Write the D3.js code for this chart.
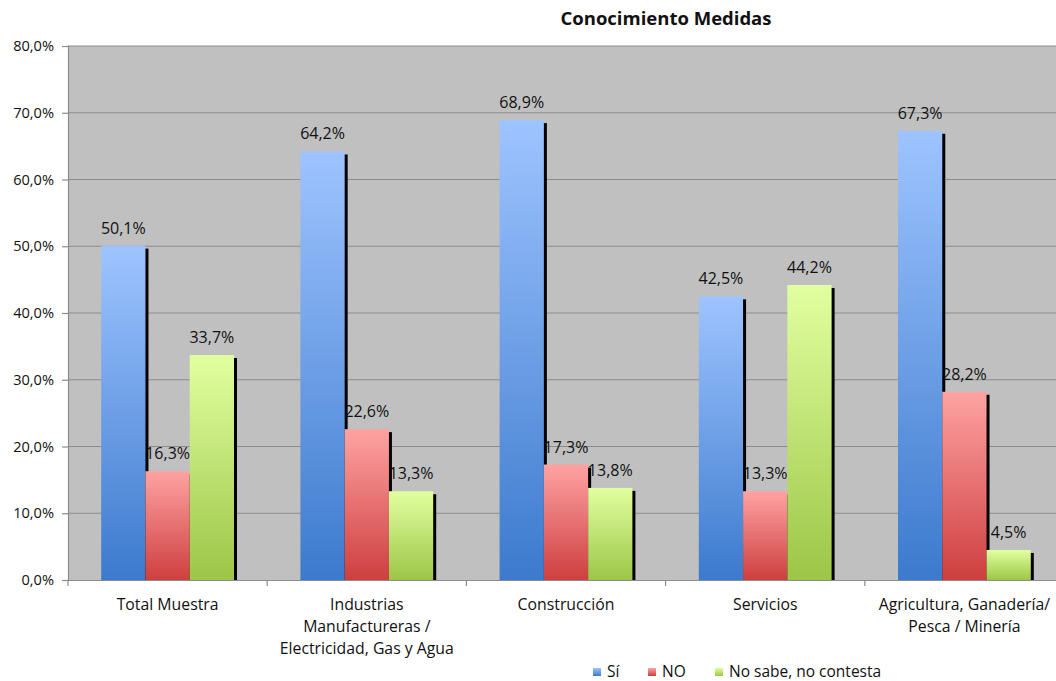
<!DOCTYPE html>
<html><head><meta charset="utf-8">
<script src="https://cdn.jsdelivr.net/npm/d3@7/dist/d3.min.js"></script>
<style>
html,body{margin:0;padding:0;background:#fff;}
svg{display:block;font-family:"Open Sans",sans-serif;}
</style></head>
<body>
<svg id="chart" width="1056" height="681"></svg>
<script>
const title = "Conocimiento Medidas";
const categories = [
  ["Total Muestra"],
  ["Industrias", "Manufactureras /", "Electricidad, Gas y Agua"],
  ["Construcción"],
  ["Servicios"],
  ["Agricultura, Ganadería/", "Pesca / Minería"]
];
const seriesNames = ["Sí", "NO", "No sabe, no contesta"];
const siValues = [50.1, 64.2, 68.9, 42.5, 67.3];
const noValues = [16.3, 22.6, 17.3, 13.3, 28.2];
const nsValues = [33.7, 13.3, 13.8, 44.2, 4.5];
const yTicks = [0, 10, 20, 30, 40, 50, 60, 70, 80];

const seriesValues = [siValues, noValues, nsValues];
const gradStops = [
  ["#9EC4FF", "#3C7ACD"],
  ["#FFA2A2", "#CE3F3F"],
  ["#E2FFA0", "#9CC647"]
];

const svg = d3.select("#chart");
const pLeft = 68, pRight = 1064, pTop = 46, pBottom = 580;
const catIdx = d3.range(categories.length);
const x0 = d3.scaleBand().domain(catIdx).range([pLeft, pRight]).paddingInner(0).paddingOuter(0);
const gapFrac = 1.5 / 4.5 / 2;
const x1 = d3.scaleBand().domain(d3.range(3))
  .range([x0.bandwidth() * gapFrac, x0.bandwidth() * (1 - gapFrac)]).padding(0);
const y = d3.scaleLinear().domain([0, 80]).range([pBottom, pTop]);

const defs = svg.append("defs");
gradStops.forEach((g, i) => {
  const lg = defs.append("linearGradient").attr("id", "g" + i)
    .attr("x1", 0).attr("y1", 0).attr("x2", 0).attr("y2", 1);
  lg.append("stop").attr("offset", "0%").attr("stop-color", g[0]);
  lg.append("stop").attr("offset", "100%").attr("stop-color", g[1]);
});

// plot background
svg.append("rect").attr("x", pLeft).attr("y", pTop).attr("width", pRight - pLeft).attr("height", pBottom - pTop)
  .attr("fill", "#C0C0C0");

// gridlines
svg.append("g").selectAll("line").data(yTicks.filter(d => d > 0)).join("line")
  .attr("x1", pLeft).attr("x2", pRight).attr("y1", d => y(d)).attr("y2", d => y(d))
  .attr("stroke", "#8C8C8C").attr("stroke-width", 1.2);

// y axis
const yAxis = d3.axisLeft(y).tickValues(yTicks).tickSize(6).tickPadding(8)
  .tickFormat(d => d3.format(".1f")(d).replace(".", ",") + "%");
const gy = svg.append("g").attr("transform", `translate(${pLeft},0)`).call(yAxis);
gy.select(".domain").attr("stroke", "#8C8C8C").attr("stroke-width", 1.2);
gy.selectAll(".tick line").attr("stroke", "#8C8C8C").attr("stroke-width", 1.2);
gy.selectAll(".tick text").attr("font-size", 14.6).attr("fill", "#111").attr("font-family", "Open Sans");

// x axis
const xAxis = d3.axisBottom(x0).tickSize(0).tickFormat("");
const gx = svg.append("g").attr("transform", `translate(0,${pBottom})`).call(xAxis);
gx.select(".domain").attr("stroke", "#8C8C8C").attr("stroke-width", 1.2);
svg.append("g").selectAll("line").data(d3.range(categories.length + 1)).join("line")
  .attr("x1", d => pLeft + d * x0.step()).attr("x2", d => pLeft + d * x0.step())
  .attr("y1", pBottom).attr("y2", pBottom + 6)
  .attr("stroke", "#8C8C8C").attr("stroke-width", 1.2);

// category labels
const catG = svg.append("g");
categories.forEach((lines, i) => {
  const cx = x0(i) + x0.bandwidth() / 2;
  const t = catG.append("text").attr("x", cx).attr("y", 610)
    .attr("text-anchor", "middle").attr("font-size", 15.8).attr("fill", "#111");
  lines.forEach((ln, j) => t.append("tspan").attr("x", cx).attr("dy", j === 0 ? 0 : 22).text(ln));
});

// bars with shadows
seriesValues.forEach((vals, s) => {
  const g = svg.append("g");
  g.selectAll("rect.sh").data(vals).join("rect").attr("class", "sh")
    .attr("x", (d, i) => x0(i) + x1(s) + 3)
    .attr("y", d => y(d) + 3)
    .attr("width", x1.bandwidth())
    .attr("height", d => pBottom - y(d) - 3)
    .attr("fill", "#000");
  g.selectAll("rect.bar").data(vals).join("rect").attr("class", "bar")
    .attr("x", (d, i) => x0(i) + x1(s))
    .attr("y", d => y(d))
    .attr("width", x1.bandwidth())
    .attr("height", d => pBottom - y(d))
    .attr("fill", `url(#g${s})`);
});

// value labels
seriesValues.forEach((vals, s) => {
  svg.append("g").selectAll("text").data(vals).join("text")
    .attr("x", (d, i) => x0(i) + x1(s) + x1.bandwidth() / 2)
    .attr("y", d => y(d) - 12)
    .attr("text-anchor", "middle").attr("font-size", 16).attr("fill", "#111")
    .text(d => d3.format(".1f")(d).replace(".", ",") + "%");
});

// title
svg.append("text").attr("x", 666).attr("y", 25).attr("text-anchor", "middle")
  .attr("font-size", 18.5).attr("font-weight", "bold").attr("fill", "#111").text(title);

// legend
const legendX = [593, 648, 715];
const lgd = svg.append("g");
seriesNames.forEach((n, i) => {
  lgd.append("rect").attr("x", legendX[i]).attr("y", 668).attr("width", 8).attr("height", 8)
    .attr("fill", `url(#g${i})`);
  lgd.append("text").attr("x", legendX[i] + 14).attr("y", 676.5).attr("font-size", 15.5).attr("fill", "#111").text(n);
});
</script>
</body></html>
